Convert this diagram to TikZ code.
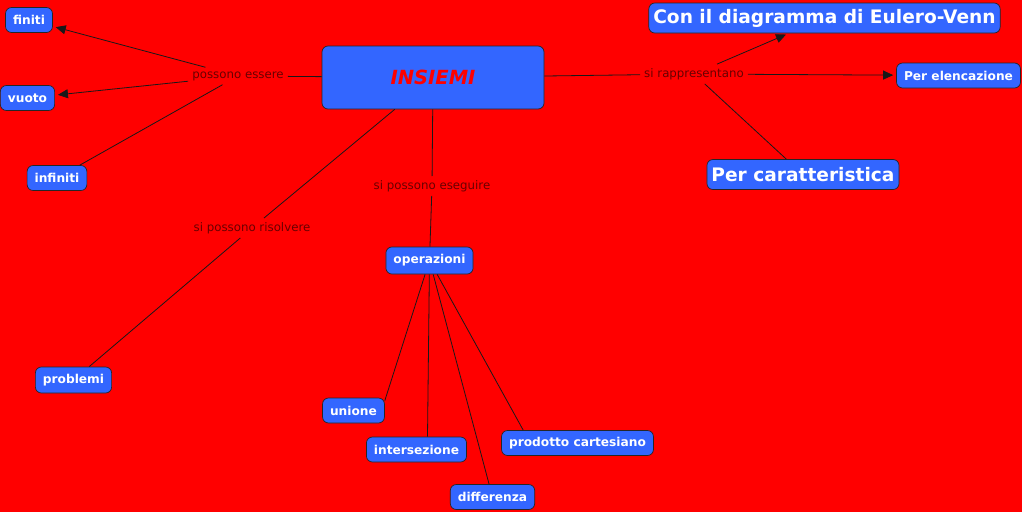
\documentclass[tikz,border=0pt]{standalone}
\usepackage{fontspec}
\setmainfont{DejaVu Sans}
\usetikzlibrary{arrows.meta}
\definecolor{mapred}{RGB}{255,0,0}
\definecolor{boxblue}{RGB}{51,102,255}
\definecolor{linktext}{RGB}{105,0,0}
\begin{document}
\begin{tikzpicture}[
  x=1pt, y=-1pt,
  box/.style={rectangle, draw=black!85, line width=0.7pt, fill=boxblue,
              rounded corners=6pt, text=white,
              font=\fontsize{12.2}{14}\selectfont\bfseries,
              inner xsep=7.5pt, inner ysep=0pt, minimum height=25pt},
  big_box/.style={box, font=\fontsize{18.6}{21}\selectfont\bfseries,
                  inner xsep=4.5pt, minimum height=30pt},
  link/.style={font=\fontsize{11.8}{13}\selectfont, text=linktext,
               inner sep=4pt},
  line/.style={draw=black!90, line width=0.8pt},
  arrow/.style={line, -{Triangle[length=10pt, width=9pt]}, shorten >=3pt}
]
  \useasboundingbox (0,0) rectangle (1022,512);
  \fill[mapred] (0,0) rectangle (1022,512);

  \node[box, minimum width=222pt, minimum height=63pt,
        font=\fontsize{19.5}{21}\selectfont\bfseries\itshape, text=mapred]
    (insiemi) at (433,77.5) {INSIEMI};

  % left branch
  \node[box] (finiti)   at (29,20)   {finiti};
  \node[box] (vuoto)    at (27.5,98) {vuoto};
  \node[box] (infiniti) at (57,178)  {infiniti};
  \node[link] (essere)  at (238,76)  {possono essere};
  \draw[line] (insiemi) -- (essere);
  \draw[arrow] (essere) -- (finiti);
  \draw[arrow] (essere) -- (vuoto);
  \draw[line] (essere) -- (infiniti);

  % right branch
  \node[big_box] (venn)  at (824.5,18)  {Con il diagramma di Eulero-Venn};
  \node[box]     (elenc) at (958.5,75.5) {Per elencazione};
  \node[big_box] (caratt) at (803,174.5) {Per caratteristica};
  \node[link] (rappr) at (694,74) {si rappresentano};
  \draw[line] (insiemi) -- (rappr);
  \draw[arrow] (rappr) -- (venn);
  \draw[arrow] (rappr) -- (elenc);
  \draw[line] (rappr) -- (caratt);

  % operations
  \node[box, minimum height=27pt] (oper) at (429.5,260.5) {operazioni};
  \node[link] (eseguire) at (432,186) {si possono eseguire};
  \draw[line] (insiemi) -- (eseguire);
  \draw[line] (eseguire) -- (oper);

  \node[box] (unione)   at (353.5,410.5) {unione};
  \node[box] (inters)   at (416.5,449.5) {intersezione};
  \node[box] (diff)     at (492.5,497)   {differenza};
  \node[box] (prodotto) at (577.5,443)   {prodotto cartesiano};
  \draw[line] (oper) -- ([yshift=-3pt]unione.north east);
  \draw[line] (oper) -- ([xshift=11pt]inters.north);
  \draw[line] (oper) -- (diff);
  \draw[line] (oper) -- ([xshift=22pt]prodotto.north west);

  % problems
  \node[box, minimum height=26pt] (problemi) at (73.5,380) {problemi};
  \node[link] (risolvere) at (252,228) {si possono risolvere};
  \draw[line] (insiemi) -- (risolvere);
  \draw[line] (risolvere) -- (problemi);
\end{tikzpicture}
\end{document}
